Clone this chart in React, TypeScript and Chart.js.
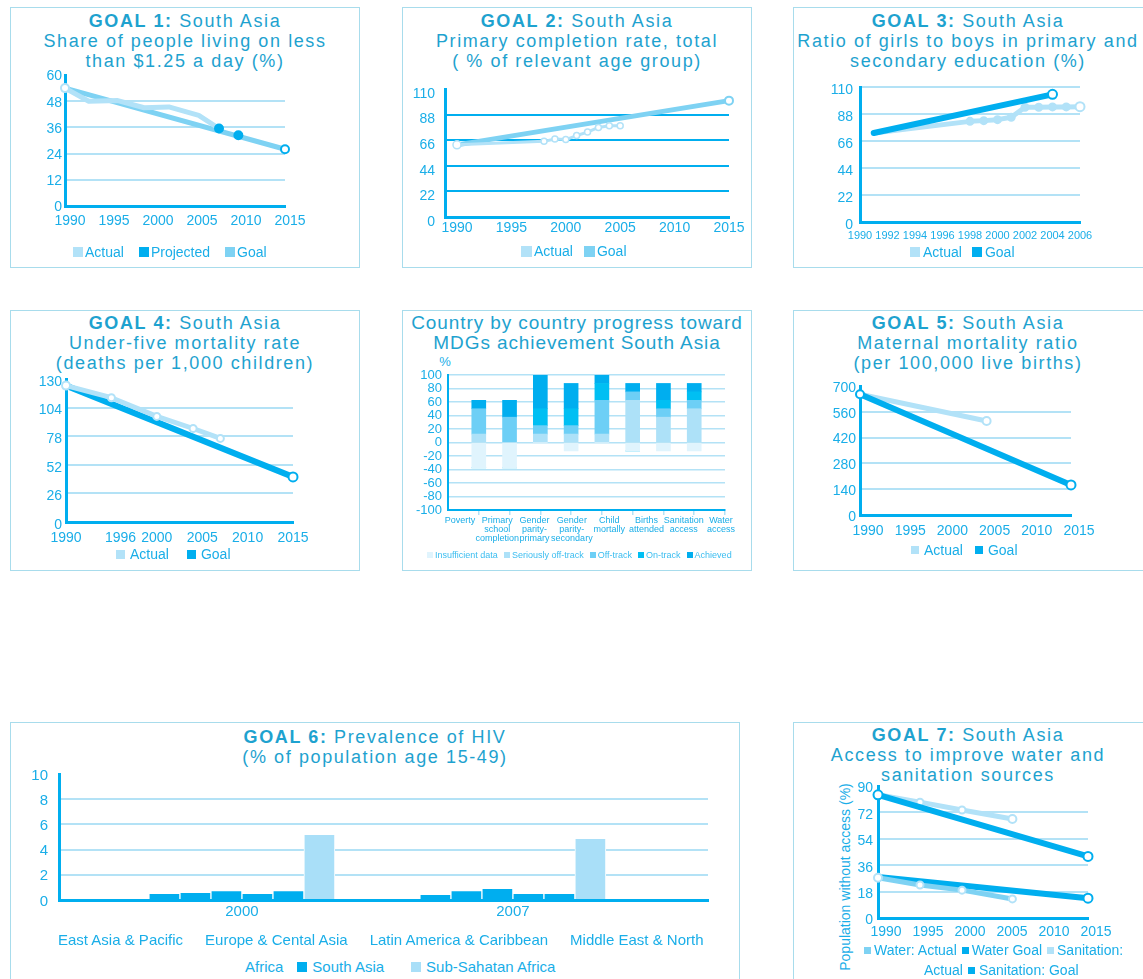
import React, { useEffect, useRef } from "react";
import { Chart, registerables } from "chart.js";

Chart.register(...registerables);

const FONT = '"Liberation Sans", Arial, Helvetica, sans-serif';
const TITLE_C = "#1ea2cf";
const TICK_C = "#1aaee8";
const AXIS_C = "#00aeef";
const GRID_C = "#b3e2f6";
const BORDER_C = "#a8dcec";
const LIGHT = "#b2e2f8";
const MED = "#7ed2f3";
const DARK = "#00aeef";
const WHITE = "#ffffff";
const NONE = "rgba(0,0,0,0)";

// ---------- Goal 1 ----------
const g1YTicks = [0, 12, 24, 36, 48, 60];
const g1XTicks = [1990, 1995, 2000, 2005, 2010, 2015];
const g1ActualYears = [1990, 1992.7, 1996, 1999, 2001.8, 2005.2, 2007.5];
const g1Actual = [54, 48, 48.3, 45, 45.4, 41.5, 35.5];
const g1ProjYears = [2007.5, 2009.7];
const g1Proj = [35.5, 32.4];
const g1GoalYears = [1990, 2015];
const g1Goal = [54, 26];

// ---------- Goal 2 ----------
const g2YTicks = [0, 22, 44, 66, 88, 110];
const g2XTicks = [1990, 1995, 2000, 2005, 2010, 2015];
const g2ActualYears = [1990, 1998, 1999, 2000, 2001, 2002, 2003, 2004, 2005];
const g2Actual = [62, 65, 67, 66.5, 70, 73, 77, 78.5, 78.5];
const g2GoalYears = [1990, 2015];
const g2Goal = [62, 100];

// ---------- Goal 3 ----------
const g3YTicks = [0, 22, 44, 66, 88, 110];
const g3XTicks = [1990, 1992, 1994, 1996, 1998, 2000, 2002, 2004, 2006];
const g3ActualYears = [1991, 1998, 1999, 2000, 2001, 2002, 2003, 2004, 2005, 2006];
const g3Actual = [72.5, 82, 82.6, 83.4, 85.3, 93.5, 93.5, 93.8, 93.8, 94];
const g3GoalYears = [1991, 2004];
const g3Goal = [72.5, 104];

// ---------- Goal 4 ----------
const g4YTicks = [0, 26, 52, 78, 104, 130];
const g4XTicks = [1990, 1996, 2000, 2005, 2010, 2015];
const g4ActualYears = [1990, 1995, 2000, 2004, 2007];
const g4Actual = [124, 113, 96, 85, 76];
const g4GoalYears = [1990, 2015];
const g4Goal = [124, 41];

// ---------- Goal 5 ----------
const g5YTicks = [0, 140, 280, 420, 560, 700];
const g5XTicks = [1990, 1995, 2000, 2005, 2010, 2015];
const g5ActualYears = [1990, 2005];
const g5Actual = [655, 510];
const g5GoalYears = [1990, 2015];
const g5Goal = [655, 163];

// ---------- Country progress ----------
const ctryYTicks = [-100, -80, -60, -40, -20, 0, 20, 40, 60, 80, 100];
const ctryLabels = [
  ["Poverty"],
  ["Primary", "school", "completion"],
  ["Gender", "parity-", "primary"],
  ["Gender", "parity-", "secondary"],
  ["Child", "mortally"],
  ["Births", "attended"],
  ["Sanitation", "access"],
  ["Water", "access"],
];
const ctryInsufficient = [-37.5, -37.5, 0, -12.5, 0, -12.5, -12.5, -12.5];
const ctrySerious = [12.5, 0, 12.5, 12.5, 12.5, 62.5, 37.5, 50];
const ctryOff = [37.5, 37.5, 12.5, 12.5, 50, 12.5, 12.5, 12.5];
const ctryOn = [0, 0, 25, 25, 25, 0, 12.5, 12.5];
const ctryAchieved = [12.5, 25, 50, 37.5, 12.5, 12.5, 25, 12.5];
const ctrySeriesNames = ["Insufficient data", "Seriously off-track", "Off-track", "On-track", "Achieved"];
const ctryColors = ["#e0f4fd", "#ade1f8", "#6dcff6", "#00bff3", "#00aeef"];

// ---------- Goal 6 (HIV) ----------
const hivYTicks = [0, 2, 4, 6, 8, 10];
const hivYears = ["2000", "2007"];
const hivRegions = [
  "East Asia & Pacific",
  "Europe & Cental Asia",
  "Latin America & Caribbean",
  "Middle East & North Africa",
  "South Asia",
  "Sub-Sahatan Africa",
];
const hivEastAsia = [0.47, 0.4];
const hivEurope = [0.55, 0.7];
const hivLatAm = [0.7, 0.87];
const hivMENA = [0.47, 0.47];
const hivSouthAsia = [0.7, 0.47];
const hivSSA = [5.15, 4.85];
const hivColors = [DARK, DARK, DARK, DARK, DARK, "#a9dff8"];

// ---------- Goal 7 ----------
const g7YTicks = [0, 18, 36, 54, 72, 90];
const g7XTicks = [1990, 1995, 2000, 2005, 2010, 2015];
const g7ActualYears = [1990, 1995, 2000, 2006];
const g7SanActual = [84, 79, 73.6, 67.5];
const g7WatActual = [27.5, 22.5, 19, 13];
const g7GoalYears = [1990, 2015];
const g7SanGoal = [84, 42];
const g7WatGoal = [28, 13.5];

// ---------- helpers ----------
const tickFont = (size: number, lh = 1.2) => ({ family: FONT, size, lineHeight: lh });

function yAxis(o: {
  min: number; max: number; ticks: number[]; w: number; pad: number; size: number;
  off?: number; grid?: string; gridW?: number; hide?: number[]; stacked?: boolean;
}) {
  return {
    type: "linear",
    min: o.min,
    max: o.max,
    stacked: !!o.stacked,
    afterBuildTicks: (s: any) => { s.ticks = o.ticks.map((v) => ({ value: v })); },
    afterFit: (s: any) => { s.width = o.w; s.paddingTop = 0; s.paddingBottom = 0; },
    ticks: { color: TICK_C, font: tickFont(o.size), padding: o.pad, labelOffset: o.off ?? 0, autoSkip: false, callback: (v: any) => String(v) },
    grid: {
      drawTicks: false,
      color: (c: any) => ((o.hide ?? []).includes(c.tick?.value) ? NONE : o.grid ?? GRID_C),
      lineWidth: o.gridW ?? 2,
    },
    border: { display: true, color: AXIS_C, width: 3 },
  };
}

function xAxis(o: { min: number; max: number; ticks: number[]; labels?: string[]; h: number; pad: number; size: number; off?: number }) {
  return {
    type: "linear",
    min: o.min,
    max: o.max,
    offset: false,
    afterBuildTicks: (s: any) => { s.ticks = o.ticks.map((v) => ({ value: v })); },
    afterFit: (s: any) => { s.height = o.h; s.paddingLeft = 0; s.paddingRight = 0; },
    ticks: {
      color: TICK_C, font: tickFont(o.size), padding: o.pad, labelOffset: o.off ?? 0,
      autoSkip: false, maxRotation: 0, minRotation: 0,
      callback: (v: any, i: number) => (o.labels ? o.labels[i] : String(v)),
    },
    grid: { display: false, drawTicks: false },
    border: { display: true, color: AXIS_C, width: 3 },
  };
}

function lineDs(xs: number[], ys: number[], o: {
  color: string; width: number; order: number; r?: number[] | number;
  fill?: string[] | string; stroke?: string[] | string; bw?: number; showLine?: boolean; label?: string;
}) {
  return {
    label: o.label,
    data: xs.map((x, i) => ({ x, y: ys[i] })),
    borderColor: o.color,
    borderWidth: o.width,
    order: o.order,
    showLine: o.showLine ?? true,
    pointRadius: o.r ?? 0,
    pointBackgroundColor: o.fill ?? WHITE,
    pointBorderColor: o.stroke ?? o.color,
    pointBorderWidth: o.bw ?? 2,
    pointHoverRadius: 0,
    tension: 0,
    clip: false,
    fill: false,
    borderCapStyle: "round",
    borderJoinStyle: "round",
  };
}

function baseOptions(scales: any) {
  return {
    animation: false,
    responsive: false,
    events: [],
    plugins: { legend: { display: false }, tooltip: { enabled: false }, title: { display: false } },
    scales,
  };
}

type Area = { l: number; t: number; r: number; b: number };

function ChartCanvas({ area, yW, xH, pad, padR = 32, config }: { area: Area; yW: number; xH: number; pad: number; padR?: number; config: () => any }) {
  const ref = useRef<HTMLCanvasElement | null>(null);
  const left = area.l - yW - pad;
  const top = area.t - pad;
  const width = area.r - left + padR;
  const height = area.b + xH + pad - top;
  useEffect(() => {
    const cfg = config();
    cfg.options.layout = { padding: { left: pad, top: pad, bottom: pad, right: padR }, autoPadding: false };
    const c = new Chart(ref.current as HTMLCanvasElement, cfg);
    return () => c.destroy();
  }, []);
  return <canvas ref={ref} width={width} height={height} style={{ position: "absolute", left, top, width, height }} />;
}

function Panel({ l, t, w, h }: { l: number; t: number; w: number; h: number }) {
  return <div style={{ position: "absolute", left: l, top: t, width: w, height: h, border: `1px solid ${BORDER_C}`, boxSizing: "border-box" }} />;
}

function Title({ left, width, top, lines, size = 18, ls = 1.6 }: { left: number; width: number; top: number; lines: React.ReactNode[]; size?: number; ls?: number }) {
  return (
    <div style={{ position: "absolute", left, width, top, textAlign: "center", fontFamily: FONT, fontSize: size, lineHeight: "20px", letterSpacing: ls, color: TITLE_C, whiteSpace: "nowrap" }}>
      {lines.map((l, i) => (<div key={i}>{l}</div>))}
    </div>
  );
}

type LegendItem = { text: string; color?: string; ml?: number };
function Legend({ left, y, items, size, box, gap, itemGap, color = TICK_C }: { left: number; y: number; items: LegendItem[]; size: number; box: number; gap: number; itemGap: number; color?: string }) {
  const lh = Math.round(size * 1.3);
  return (
    <div style={{ position: "absolute", left, top: y - lh / 2, height: lh, display: "flex", alignItems: "center", whiteSpace: "nowrap", fontFamily: FONT, fontSize: size, lineHeight: `${lh}px`, color }}>
      {items.map((it, i) => (
        <React.Fragment key={i}>
          {it.color !== undefined && (
            <span style={{ display: "inline-block", flex: "none", width: box, height: box, background: it.color, marginLeft: i === 0 ? 0 : it.ml ?? itemGap, marginRight: gap }} />
          )}
          <span style={{ marginLeft: it.color === undefined && i > 0 ? it.ml ?? itemGap : 0 }}>{it.text}</span>
        </React.Fragment>
      ))}
    </div>
  );
}

// ---------- chart configs ----------
const g1Config = () => ({
  type: "line",
  data: {
    datasets: [
      lineDs(g1ProjYears, g1Proj, { label: "Projected", color: DARK, width: 0, order: 0, r: 4, fill: DARK, stroke: DARK, showLine: false }),
      lineDs(g1ActualYears, g1Actual, { label: "Actual", color: LIGHT, width: 5, order: 1, r: [4, 0, 0, 0, 0, 0, 0], fill: WHITE, stroke: LIGHT }),
      lineDs(g1GoalYears, g1Goal, { label: "Goal", color: MED, width: 5, order: 2, r: [0, 4], fill: WHITE, stroke: [MED, DARK] }),
    ],
  },
  options: baseOptions({
    x: xAxis({ min: 1990, max: 2015, ticks: g1XTicks, h: 30, pad: 7, size: 14, off: 5 }),
    y: yAxis({ min: 0, max: 60, ticks: g1YTicks, w: 45, pad: 3, size: 14, off: 1.5, hide: [60] }),
  }),
});

const g2Config = () => ({
  type: "line",
  data: {
    datasets: [
      lineDs(g2ActualYears, g2Actual, { label: "Actual", color: LIGHT, width: 3, order: 0, r: [4, 3, 3, 3, 3, 3, 3, 3, 3], fill: WHITE, stroke: LIGHT, bw: 1.5 }),
      lineDs(g2GoalYears, g2Goal, { label: "Goal", color: MED, width: 5, order: 1, r: [0, 4], fill: WHITE, stroke: MED }),
    ],
  },
  options: baseOptions({
    x: xAxis({ min: 1988.9, max: 2015, ticks: g2XTicks, h: 30, pad: 3, size: 14 }),
    y: yAxis({ min: 0, max: 110, ticks: g2YTicks, w: 45, pad: 10, size: 14, off: 5, grid: DARK, gridW: 2, hide: [110] }),
  }),
});

const g3Config = () => ({
  type: "line",
  data: {
    datasets: [
      lineDs(g3GoalYears, g3Goal, { label: "Goal", color: DARK, width: 6, order: 0, r: [0, 4.5], fill: WHITE, stroke: DARK }),
      lineDs(g3ActualYears, g3Actual, {
        label: "Actual", color: LIGHT, width: 5, order: 1,
        r: [0, 3.5, 3.5, 3.5, 3.5, 3.5, 3.5, 3.5, 3.5, 4.5],
        fill: [LIGHT, LIGHT, LIGHT, LIGHT, LIGHT, LIGHT, LIGHT, LIGHT, LIGHT, WHITE], stroke: LIGHT,
      }),
    ],
  },
  options: baseOptions({
    x: xAxis({ min: 1990, max: 2006, ticks: g3XTicks, h: 24, pad: 7, size: 11 }),
    y: yAxis({ min: 0, max: 110, ticks: g3YTicks, w: 45, pad: 7, size: 14, off: 3 }),
  }),
});

const g4Config = () => ({
  type: "line",
  data: {
    datasets: [
      lineDs(g4ActualYears, g4Actual, { label: "Actual", color: LIGHT, width: 5, order: 0, r: [4, 3.5, 3.5, 3.5, 3.5], fill: WHITE, stroke: LIGHT }),
      lineDs(g4GoalYears, g4Goal, { label: "Goal", color: DARK, width: 6, order: 1, r: [0, 4.5], fill: WHITE, stroke: DARK }),
    ],
  },
  options: baseOptions({
    x: xAxis({ min: 1990, max: 2015, ticks: g4XTicks, h: 30, pad: 8, size: 14 }),
    y: yAxis({ min: 0, max: 130, ticks: g4YTicks, w: 45, pad: 4, size: 14, off: 3, hide: [130] }),
  }),
});

const g5Config = () => ({
  type: "line",
  data: {
    datasets: [
      lineDs(g5GoalYears, g5Goal, { label: "Goal", color: DARK, width: 6, order: 0, r: [4, 4.5], fill: WHITE, stroke: DARK }),
      lineDs(g5ActualYears, g5Actual, { label: "Actual", color: LIGHT, width: 5, order: 1, r: [0, 4], fill: WHITE, stroke: LIGHT }),
    ],
  },
  options: baseOptions({
    x: xAxis({ min: 1990, max: 2015, ticks: g5XTicks, h: 30, pad: 8, size: 14, off: 8 }),
    y: yAxis({ min: 0, max: 700, ticks: g5YTicks, w: 45, pad: 4, size: 14, off: 2, hide: [700] }),
  }),
});

const ctryConfig = () => {
  const series = [ctryInsufficient, ctrySerious, ctryOff, ctryOn, ctryAchieved];
  return {
    type: "bar",
    data: {
      datasets: series.map((vals, k) => ({
        label: ctrySeriesNames[k],
        data: vals.map((v, i) => ({ x: i + 1, y: v })),
        backgroundColor: ctryColors[k],
        borderWidth: 0,
        barThickness: 14,
      })),
    },
    options: baseOptions({
      x: {
        type: "linear", min: 0, max: 9, offset: false, stacked: true, weight: 0,
        afterBuildTicks: (s: any) => { s.ticks = [1, 2, 3, 4, 5, 6, 7, 8, 9].map((v) => ({ value: v })); },
        afterFit: (s: any) => { s.height = 6; s.paddingLeft = 0; s.paddingRight = 0; },
        ticks: { display: false },
        grid: { display: true, drawOnChartArea: false, drawTicks: true, tickLength: 5, color: GRID_C, lineWidth: 1.5, offset: false },
        border: { display: true, color: AXIS_C, width: 2 },
      },
      xl: {
        type: "linear", position: "bottom", min: -0.322, max: 7.107, weight: 1, offset: false,
        afterBuildTicks: (s: any) => { s.ticks = ctryLabels.map((_, i) => ({ value: i })); },
        afterFit: (s: any) => { s.height = 30; s.paddingLeft = 0; s.paddingRight = 0; },
        ticks: { color: TICK_C, font: tickFont(9, 1), padding: 0, autoSkip: false, maxRotation: 0, minRotation: 0, callback: (_v: any, i: number) => ctryLabels[i] },
        grid: { display: false, drawTicks: false, offset: false },
        border: { display: false },
      },
      y: {
        ...yAxis({ min: -100, max: 100, ticks: ctryYTicks, w: 45, pad: 6, size: 13, gridW: 1.5, stacked: true }),
        border: { display: true, color: AXIS_C, width: 2 },
      },
    }),
  };
};

const hivConfig = () => {
  const series = [hivEastAsia, hivEurope, hivLatAm, hivMENA, hivSouthAsia, hivSSA];
  return {
    type: "bar",
    data: {
      datasets: series.map((vals, k) => ({
        label: hivRegions[k],
        data: vals.map((v, i) => ({ x: i, y: v })),
        backgroundColor: hivColors[k],
        borderColor: WHITE,
        borderWidth: { left: 1, right: 1, top: 0, bottom: 0 },
        borderSkipped: false,
        barThickness: 31,
      })),
    },
    options: baseOptions({
      x: xAxis({ min: -0.675, max: 1.72, ticks: [0, 1], labels: hivYears, h: 30, pad: 3, size: 15 }),
      y: yAxis({ min: 0, max: 10, ticks: hivYTicks, w: 45, pad: 11, size: 15, off: 1.5, hide: [10] }),
    }),
  };
};

const g7Config = () => ({
  type: "line",
  data: {
    datasets: [
      lineDs(g7ActualYears, g7SanActual, { label: "Sanitation: Actual", color: LIGHT, width: 5, order: 1, r: [0, 3.5, 3.5, 4], fill: WHITE, stroke: LIGHT }),
      lineDs(g7GoalYears, g7SanGoal, { label: "Sanitation: Goal", color: DARK, width: 6, order: 0, r: [4.5, 4.5], fill: WHITE, stroke: DARK }),
      lineDs(g7ActualYears, g7WatActual, { label: "Water: Actual", color: MED, width: 5, order: 2, r: [4, 3.5, 3.5, 3.5], fill: WHITE, stroke: LIGHT }),
      lineDs(g7GoalYears, g7WatGoal, { label: "Water Goal", color: DARK, width: 6, order: 3, r: [0, 4.5], fill: WHITE, stroke: DARK }),
    ],
  },
  options: baseOptions({
    x: xAxis({ min: 1990, max: 2015, ticks: g7XTicks, h: 30, pad: 6, size: 14, off: 8 }),
    y: yAxis({ min: 0, max: 90, ticks: g7YTicks, w: 45, pad: 5, size: 14, off: 2.5, hide: [90] }),
  }),
});

export default function App() {
  return (
    <div style={{ position: "absolute", left: 0, top: 0, width: 1143, height: 979, overflow: "hidden", background: "#ffffff" }}>
      {/* Row 1 */}
      <Panel l={10} t={7} w={350} h={261} />
      <Panel l={402} t={7} w={350} h={261} />
      <Panel l={793} t={7} w={352} h={261} />
      {/* Row 2 */}
      <Panel l={10} t={310} w={350} h={261} />
      <Panel l={402} t={310} w={350} h={261} />
      <Panel l={793} t={310} w={352} h={261} />
      {/* Row 3 */}
      <Panel l={10} t={722} w={730} h={270} />
      <Panel l={793} t={722} w={352} h={270} />

      {/* Goal 1 */}
      <Title left={10} width={350} top={11} lines={[<><b>GOAL 1:</b> South Asia</>, "Share of people living on less", "than $1.25 a day (%)"]} />
      <ChartCanvas area={{ l: 65, t: 75, r: 285, b: 206 }} yW={45} xH={30} pad={10} config={g1Config} />
      <Legend left={73} y={252} size={14} box={10} gap={2} itemGap={15} items={[{ text: "Actual", color: LIGHT }, { text: "Projected", color: DARK }, { text: "Goal", color: MED }]} />

      {/* Goal 2 */}
      <Title left={402} width={350} top={11} lines={[<><b>GOAL 2:</b> South Asia</>, "Primary completion rate, total", "( % of relevant age group)"]} />
      <ChartCanvas area={{ l: 445, t: 89, r: 729, b: 217 }} yW={45} xH={30} pad={10} config={g2Config} />
      <Legend left={521} y={251} size={14} box={11} gap={2} itemGap={11} items={[{ text: "Actual", color: LIGHT }, { text: "Goal", color: MED }]} />

      {/* Goal 3 */}
      <Title left={793} width={350} top={11} lines={[<><b>GOAL 3:</b> South Asia</>, "Ratio of girls to boys in primary and", "secondary education (%)"]} />
      <ChartCanvas area={{ l: 860, t: 87, r: 1080, b: 222 }} yW={45} xH={24} pad={10} config={g3Config} />
      <Legend left={910} y={252} size={14} box={10} gap={3} itemGap={10} items={[{ text: "Actual", color: LIGHT }, { text: "Goal", color: DARK }]} />

      {/* Goal 4 */}
      <Title left={10} width={350} top={313} lines={[<><b>GOAL 4:</b> South Asia</>, "Under-five mortality rate", "(deaths per 1,000 children)"]} />
      <ChartCanvas area={{ l: 66, t: 379, r: 293, b: 522 }} yW={45} xH={30} pad={10} config={g4Config} />
      <Legend left={116} y={554} size={14} box={9} gap={5} itemGap={18} items={[{ text: "Actual", color: LIGHT }, { text: "Goal", color: DARK }]} />

      {/* Country progress */}
      <Title left={402} width={350} top={313} size={19} ls={0.9} lines={["Country by country progress toward", "MDGs achievement South Asia"]} />
      <div style={{ position: "absolute", left: 438, top: 354, width: 14, height: 16, textAlign: "center", fontFamily: FONT, fontSize: 13, lineHeight: "16px", color: TICK_C }}>%</div>
      <ChartCanvas area={{ l: 448, t: 375, r: 725, b: 510 }} yW={45} xH={36} pad={8} padR={20} config={ctryConfig} />
      <Legend left={427} y={555} size={9} box={6} gap={2} itemGap={6} color="#3bbdf0"
        items={ctrySeriesNames.map((n, k) => ({ text: n, color: ctryColors[k] }))} />

      {/* Goal 5 */}
      <Title left={793} width={350} top={313} lines={[<><b>GOAL 5:</b> South Asia</>, "Maternal mortality ratio", "(per 100,000 live births)"]} />
      <ChartCanvas area={{ l: 860, t: 386, r: 1071, b: 515 }} yW={45} xH={30} pad={10} config={g5Config} />
      <Legend left={911} y={550} size={14} box={8} gap={5} itemGap={12} items={[{ text: "Actual", color: LIGHT }, { text: "Goal", color: DARK }]} />

      {/* Goal 6 HIV */}
      <Title left={10} width={730} top={727} lines={[<><b>GOAL 6:</b> Prevalence of HIV</>, "(% of population age 15-49)"]} />
      <ChartCanvas area={{ l: 59, t: 774, r: 708, b: 900 }} yW={45} xH={30} pad={10} padR={20} config={hivConfig} />
      <Legend left={44} y={940} size={15} box={10} gap={4} itemGap={8}
        items={[
          { text: "East Asia & Pacific", color: NONE },
          { text: "Europe & Cental Asia", color: NONE },
          { text: "Latin America & Caribbean", color: NONE },
          { text: "Middle East & North", color: NONE },
        ]} />
      <Legend left={245} y={967} size={15} box={10} gap={5} itemGap={14}
        items={[
          { text: "Africa" },
          { text: "South Asia", color: DARK, ml: 14 },
          { text: "Sub-Sahatan Africa", color: "#a9dff8", ml: 27 },
        ]} />

      {/* Goal 7 */}
      <Title left={793} width={350} top={725} lines={[<><b>GOAL 7:</b> South Asia</>, "Access to improve water and", "sanitation sources"]} />
      <div style={{ position: "absolute", left: 845 - 120, top: 877 - 9, width: 240, height: 18, textAlign: "center", transform: "rotate(-90deg)", fontFamily: FONT, fontSize: 14, lineHeight: "18px", color: TICK_C, whiteSpace: "nowrap" }}>
        Population without access (%)
      </div>
      <ChartCanvas area={{ l: 878, t: 786, r: 1088, b: 918 }} yW={45} xH={30} pad={10} config={g7Config} />
      <Legend left={864} y={950} size={14} box={7} gap={3} itemGap={5}
        items={[
          { text: "Water: Actual", color: MED },
          { text: "Water Goal", color: DARK },
          { text: "Sanitation:", color: LIGHT },
        ]} />
      <Legend left={924} y={970} size={14} box={7} gap={4} itemGap={5}
        items={[
          { text: "Actual" },
          { text: "Sanitation: Goal", color: DARK, ml: 5 },
        ]} />
    </div>
  );
}
